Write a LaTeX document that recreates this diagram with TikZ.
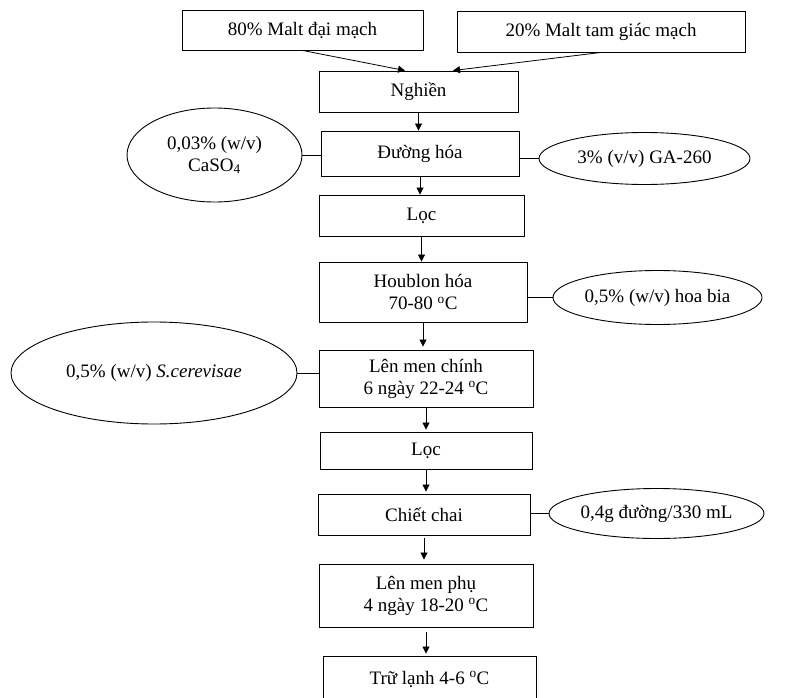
\documentclass[tikz,border=0pt]{standalone}
\usepackage{fontspec}
\setmainfont{Liberation Serif}
\usetikzlibrary{arrows.meta,calc,shapes.geometric}
\newcommand\degc{\textsuperscript{o}C}
\begin{document}
\begin{tikzpicture}[x=1pt,y=-1pt,
  box/.style={draw,line width=0.9pt,inner sep=0pt,align=center,font=\fontsize{19}{22}\selectfont},
  ell/.style={draw,ellipse,line width=0.9pt,inner sep=0pt,align=center,font=\fontsize{19}{22}\selectfont},
  arr/.style={line width=0.8pt,-{Triangle[length=7pt,width=7pt]}},
  conn/.style={line width=0.8pt}]
\useasboundingbox (0,0) rectangle (792,698);
\clip (0,0) rectangle (792,698);
% process boxes
\node[box,minimum width=241pt,minimum height=40pt] (m1) at (302.5,30) {80\% Malt đại mạch};
\node[box,minimum width=288pt,minimum height=41pt] (m2) at (601,31.5) {20\% Malt tam giác mạch};
\node[box,minimum width=199pt,minimum height=41pt] (ng) at (418.5,91.5) {Nghiền};
\node[box,minimum width=198pt,minimum height=45pt] (dh) at (420,153.5) {Đường hóa};
\node[box,minimum width=205pt,minimum height=41pt] (loc1) at (421.5,215.5) {Lọc};
\node[box,minimum width=208pt,minimum height=60pt] (hb) at (423,292) {Houblon hóa\\70-80 \degc};
\node[box,minimum width=214pt,minimum height=57pt] (lmc) at (426,378.5) {Lên men chính\\6 ngày 22-24 \degc};
\node[box,minimum width=212pt,minimum height=37pt] (loc2) at (426,450.5) {Lọc};
\node[box,minimum width=212pt,minimum height=41pt] (cc) at (424,514.5) {Chiết chai};
\node[box,minimum width=214pt,minimum height=63pt] (lmp) at (426,595.5) {Lên men phụ\\4 ngày 18-20 \degc};
\node[box,minimum width=213pt,minimum height=46pt] (tl) at (429.5,679) {Trữ lạnh 4-6 \degc};
% additive ellipses
\node[ell,minimum width=175pt,minimum height=94pt] (caso) at (214.5,155) {0,03\% (w/v)\\CaSO\textsubscript{4}};
\node[ell,minimum width=211pt,minimum height=52pt] (ga) at (644.5,158.5) {3\% (v/v) GA-260};
\node[ell,minimum width=209pt,minimum height=54pt] (hoa) at (657.5,297.5) {0,5\% (w/v) hoa bia};
\node[ell,minimum width=286pt,minimum height=102pt] (sc) at (154,373) {0,5\% (w/v) \textit{S.cerevisae}};
\node[ell,minimum width=215pt,minimum height=50pt] (sug) at (656.5,513.5) {0,4g đường/330 mL};
% connectors from additives
\draw[conn] (caso.east) -- (caso.east -| dh.west);
\draw[conn] (ga.west) -- (ga.west -| dh.east);
\draw[conn] (hoa.west) -- (hoa.west -| hb.east);
\draw[conn] (sc.east) -- (sc.east -| lmc.west);
\draw[conn] (sug.west) -- (sug.west -| cc.east);
% arrows
\coordinate (a1) at ($(ng.north)+(-13.5,0)$);
\coordinate (a2) at ($(ng.north)+(34.5,0)$);
\draw[arr] (m1.south) -- (a1);
\draw[arr] (m2.south) -- (a2);
\draw[arr] (ng.south) -- (ng.south |- dh.north);
\draw[arr] (dh.south) -- (dh.south |- loc1.north);
\draw[arr] (loc1.south) -- (loc1.south |- hb.north);
\draw[arr,shorten >=3pt] (hb.south) -- (hb.south |- lmc.north);
\draw[arr,shorten >=2pt] (lmc.south) -- (lmc.south |- loc2.north);
\draw[arr,shorten >=2pt] (loc2.south) -- (loc2.south |- cc.north);
\draw[arr,shorten <=3pt,shorten >=4pt] (cc.south) -- (cc.south |- lmp.north);
\draw[arr,shorten <=5pt,shorten >=2pt] (lmp.south) -- (lmp.south |- tl.north);
\end{tikzpicture}
\end{document}
